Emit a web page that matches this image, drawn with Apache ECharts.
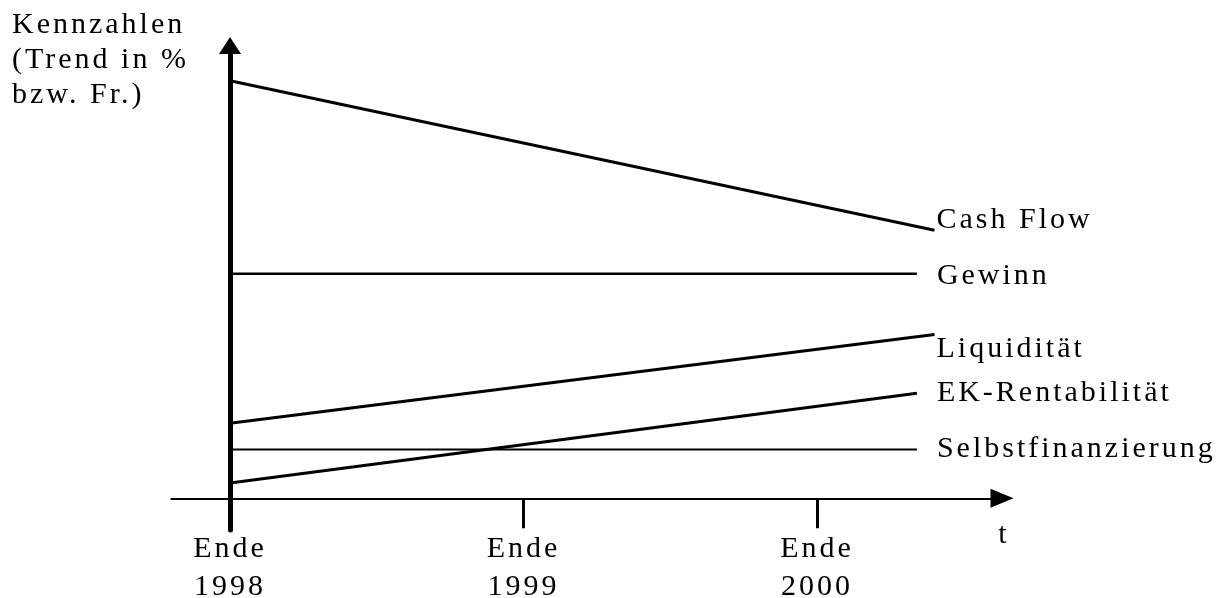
<!DOCTYPE html>
<html>
<head>
<meta charset="utf-8">
<script src="https://cdn.jsdelivr.net/npm/echarts@6/dist/echarts.min.js"></script>
<style>
  html, body { margin: 0; padding: 0; background: #fff; }
  #chart { width: 1222px; height: 598px; }
</style>
</head>
<body>
<div id="chart"></div>
<script>
// Kennzahlen-Trend (schematisch)

var names = ['Cash Flow', 'Gewinn', 'Liquidität', 'EK-Rentabilität', 'Selbstfinanzierung'];
// Zeit in Jahren ab Ende 1998
var startT = [0, 0, 0, 0, 0];
var endT = [2.40, 2.34, 2.40, 2.34, 2.34];
var startVal = [46.1, 24.8, 8.3, 1.7, 5.4];
var endVal = [29.6, 24.8, 18.1, 11.6, 5.4];
var tickT = [1, 2];
var labelT = [0, 1, 2];
var tickLabels = ['Ende\n1998', 'Ende\n1999', 'Ende\n2000'];

var FONT = '"Liberation Serif", "Times New Roman", serif';

// die Vorlage hat gesperrte Schrift -> Zeichenabstand im Canvas setzen
var ctxProto = CanvasRenderingContext2D.prototype;
['fillText', 'strokeText', 'measureText'].forEach(function (fn) {
    var orig = ctxProto[fn];
    ctxProto[fn] = function () {
        this.letterSpacing = '3px';
        return orig.apply(this, arguments);
    };
});

// label placement next to line ends
var labelOffsets = [[2, -10], [20, 2], [2, 15], [20, 0], [20, 0]];
var lineWidths = [3, 2.5, 3, 3, 2];

var myChart = echarts.init(document.getElementById('chart'));

var series = names.map(function (n, i) {
    return {
        name: n,
        type: 'line',
        symbol: 'none',
        silent: true,
        data: [[startT[i], startVal[i]], [endT[i], endVal[i]]],
        lineStyle: { color: '#000', width: lineWidths[i] },
        endLabel: {
            show: true,
            formatter: '{a}',
            distance: 0,
            offset: labelOffsets[i],
            color: '#000',
            fontFamily: FONT,
            fontSize: 30
        }
    };
});

var option = {
    backgroundColor: '#fff',
    animation: false,
    title: {
        text: 'Kennzahlen\n(Trend in %\nbzw. Fr.)',
        left: 12,
        top: 8,
        padding: 0,
        textStyle: {
            color: '#000',
            fontFamily: FONT,
            fontSize: 30,
            fontWeight: 'normal',
            lineHeight: 35
        }
    },
    grid: {
        left: 171.3,
        right: 220,
        top: 45.5,
        bottom: 68,
        containLabel: false,
        outerBoundsMode: 'none'
    },
    xAxis: {
        type: 'value',
        min: -0.2,
        max: 2.63,
        name: 't',
        nameLocation: 'end',
        nameGap: 2,
        nameTextStyle: {
            color: '#000',
            fontFamily: FONT,
            fontSize: 30,
            lineHeight: 30,
            align: 'center',
            verticalAlign: 'top',
            padding: [22, 0, 0, 0]
        },
        axisLine: {
            onZero: true,
            symbol: ['none', 'triangle'],
            symbolSize: [19, 23],
            lineStyle: { color: '#000', width: 2 }
        },
        axisTick: {
            show: true,
            customValues: tickT,
            length: 30,
            lineStyle: { color: '#000', width: 3 }
        },
        axisLabel: {
            show: true,
            customValues: labelT,
            margin: 0,
            color: '#000',
            fontFamily: FONT,
            fontSize: 30,
            lineHeight: 38,
            formatter: function (v) {
                return tickLabels[Math.round(v)];
            }
        },
        splitLine: { show: false }
    },
    yAxis: {
        type: 'value',
        min: -3.5,
        max: 50,
        axisLine: {
            show: true,
            onZero: true,
            symbol: ['none', 'triangle'],
            symbolSize: [22, 17],
            lineStyle: { color: '#000', width: 5 }
        },
        axisTick: { show: false },
        axisLabel: { show: false },
        splitLine: { show: false }
    },
    series: series
};

myChart.setOption(option);
</script>
</body>
</html>
